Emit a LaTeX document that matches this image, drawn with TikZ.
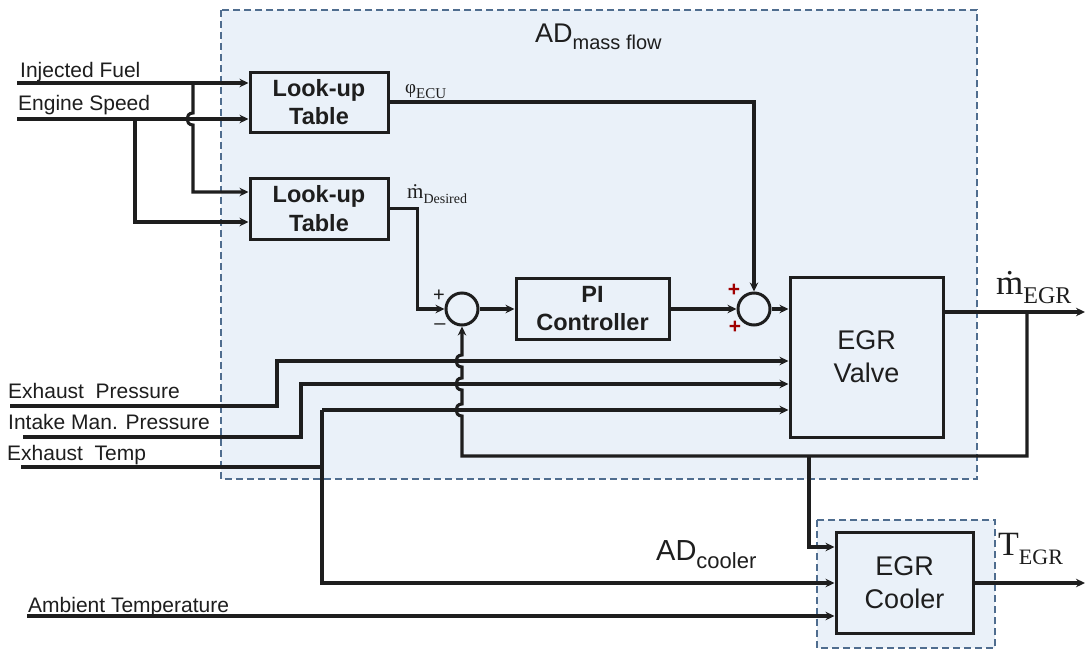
\documentclass[tikz,border=0pt]{standalone}
\usepackage{fontspec}
\setmainfont{Liberation Sans}
\newfontfamily\timesf{Liberation Serif}
\usetikzlibrary{arrows.meta}
\definecolor{dashc}{HTML}{4F6D8F}
\definecolor{regfill}{HTML}{EAF1F9}
\definecolor{inkc}{HTML}{1E1E1E}
\definecolor{redc}{HTML}{A00000}
\newcommand{\fsz}[2]{\fontsize{#1}{#2}\selectfont}
\newcommand{\mysub}[2]{\raisebox{-0.28em}{\fsz{#1}{#1}#2}}
\tikzset{
  sig/.style={line width=3.1pt, draw=inkc, -{Stealth[length=9pt,width=8.5pt]}},
  ln/.style={line width=3.1pt, draw=inkc},
  blk/.style={draw=inkc, line width=3pt, fill=regfill, inner sep=0pt, align=center, text=inkc},
  boldblk/.style={blk, font=\fsz{23.5}{28.5}\bfseries},
  bigblk/.style={blk, font=\fsz{27}{33}},
  sumc/.style={draw=inkc, line width=3pt, circle, minimum size=32pt, inner sep=0pt, fill=regfill},
  region/.style={draw=dashc, line width=2.4pt, dash pattern=on 7pt off 4pt, fill=regfill},
  lab/.style={anchor=base west, inner sep=0pt, text=inkc, font=\fsz{21}{24}},
}
\begin{document}
\begin{tikzpicture}[x=1pt,y=-1pt]
\useasboundingbox (0,0) rectangle (1086,651);
\fill[white] (0,0) rectangle (1086,651);
% regions
\draw[region] (221,10) rectangle (977,479);
\draw[region] (817,520) rectangle (995,648);
\node[anchor=base west, inner sep=0pt, text=inkc] (admf) at (535,42) {\fsz{27}{30}AD\mysub{20}{mass flow}};
\node[anchor=base west, inner sep=0pt, text=inkc] (adco) at (656,560) {\fsz{29}{30}AD\mysub{22}{cooler}};

% blocks
\node[boldblk, minimum width=138pt, minimum height=60pt] (lut1) at (319,102) {Look-up\\Table};
\node[boldblk, minimum width=138pt, minimum height=61pt] (lut2) at (319,208.5) {Look-up\\Table};
\node[sumc] (sum1) at (462,309) {};
\node[boldblk, minimum width=153pt, minimum height=61pt] (pi) at (592.5,308.5) {PI\\Controller};
\node[sumc] (sum2) at (754,309) {};
\node[bigblk, minimum width=153pt, minimum height=160pt] (valve) at (866.5,357) {EGR\\Valve};
\node[bigblk, minimum width=137pt, minimum height=101pt] (cooler) at (904.5,582.5) {EGR\\Cooler};

% sign labels
\node[inner sep=0pt, text=inkc, font=\fsz{20}{20}] (p1) at (439,296) {+};
\node[inner sep=0pt, text=inkc, font=\fsz{20}{20}] (m1) at (440,327) {\textendash};
\node[inner sep=0pt, text=redc, font=\fsz{21}{21}\bfseries] (p2) at (734,290) {+};
\node[inner sep=0pt, text=redc, font=\fsz{21}{21}\bfseries] (p3) at (735,327) {+};

% input labels
\node[lab] (tF) at (20,77) {Injected Fuel};
\node[lab] (tS) at (18,110) {Engine Speed};
\node[lab] (tEP) at (8,398) {Exhaust\ \ Pressure};
\node[lab] (tIP) at (8,429) {Intake Man. Pressure};
\node[lab] (tET) at (7,460) {Exhaust\ \ Temp};
\node[lab] (tAT) at (28,612) {Ambient Temperature};

% signal labels
\node[anchor=base west, inner sep=0pt, text=inkc] (lphi) at (405,93) {\timesf\fsz{19}{20}φ\mysub{15}{ECU}};
\node[anchor=base west, inner sep=0pt, text=inkc] (lmd) at (407,198) {\timesf\fsz{21}{22}\.{m}\mysub{14}{Desired}};
\node[anchor=base west, inner sep=0pt, text=inkc] (lme) at (996,294) {\timesf\fsz{35}{36}\.{m}\mysub{24}{EGR}};
\node[anchor=base west, inner sep=0pt, text=inkc] (lte) at (998,555) {\timesf\fsz{34}{34}T\mysub{22}{EGR}};

% coordinates
\coordinate (inF) at (17,83);
\coordinate (inS) at (17,119);
\coordinate (fJ) at (193,83);
\coordinate (fT) at (193,192);
\coordinate (sJ) at (135,119);
\coordinate (sT) at (135,222);
\coordinate (mOut) at (1085,312);
\coordinate (fbA) at (1027,312);
\coordinate (fbB) at (462,456);
\coordinate (brA) at (809,456);
\coordinate (cIn1) at (809,547);
\coordinate (ep0) at (10,406);
\coordinate (epT) at (277,361);
\coordinate (ip0) at (23,437);
\coordinate (ipT) at (301,384);
\coordinate (et0) at (21,467);
\coordinate (etJ) at (322,467);
\coordinate (etT) at (322,410);
\coordinate (etB) at (322,583);
\coordinate (am0) at (27,616);
\coordinate (tOut) at (1085,583);

% look-up inputs
\draw[sig] (inF) -- (lut1.west |- inF);
\draw[sig] (inS) -- (lut1.west |- inS);
\draw[sig] (fJ) -- (193,113) .. controls (185,113) and (185,125) .. (193,125) -- (fT) -- (lut2.west |- fT);
\draw[sig] (sJ) -- (sT) -- (lut2.west |- sT);

% forward path
\draw[sig] (lut1.east) -| (sum2.north);
\draw[sig] (lut2.east) -- ++(28,0) |- (sum1.west);
\draw[sig] (sum1.east) -- (pi.west |- sum1.east);
\draw[sig] (pi.east |- sum2.west) -- (sum2.west);
\draw[sig] (sum2.east) -- (valve.west |- sum2.east);

% valve output and feedback
\draw[sig] (valve.east |- mOut) -- (mOut);
\draw[sig] (fbA) |- (fbB) -- (462,416) .. controls (454,416) and (454,404) .. (462,404)
   -- (462,390) .. controls (454,390) and (454,378) .. (462,378)
   -- (462,367) .. controls (454,367) and (454,355) .. (462,355) -- (sum1.south);
\draw[sig] (brA) -- (cIn1) -- (cooler.west |- cIn1);

% other valve inputs
\draw[sig] (ep0) -| (epT) -- (valve.west |- epT);
\draw[sig] (ip0) -| (ipT) -- (valve.west |- ipT);
\draw[ln] (et0) -- (etJ);
\draw[sig] (etT) -- (valve.west |- etT);
\draw[sig] (etT) -- (etB) -- (cooler.west |- etB);
\draw[sig] (am0) -- (cooler.west |- am0);
\draw[sig] (cooler.east |- tOut) -- (tOut);
\end{tikzpicture}
\end{document}
